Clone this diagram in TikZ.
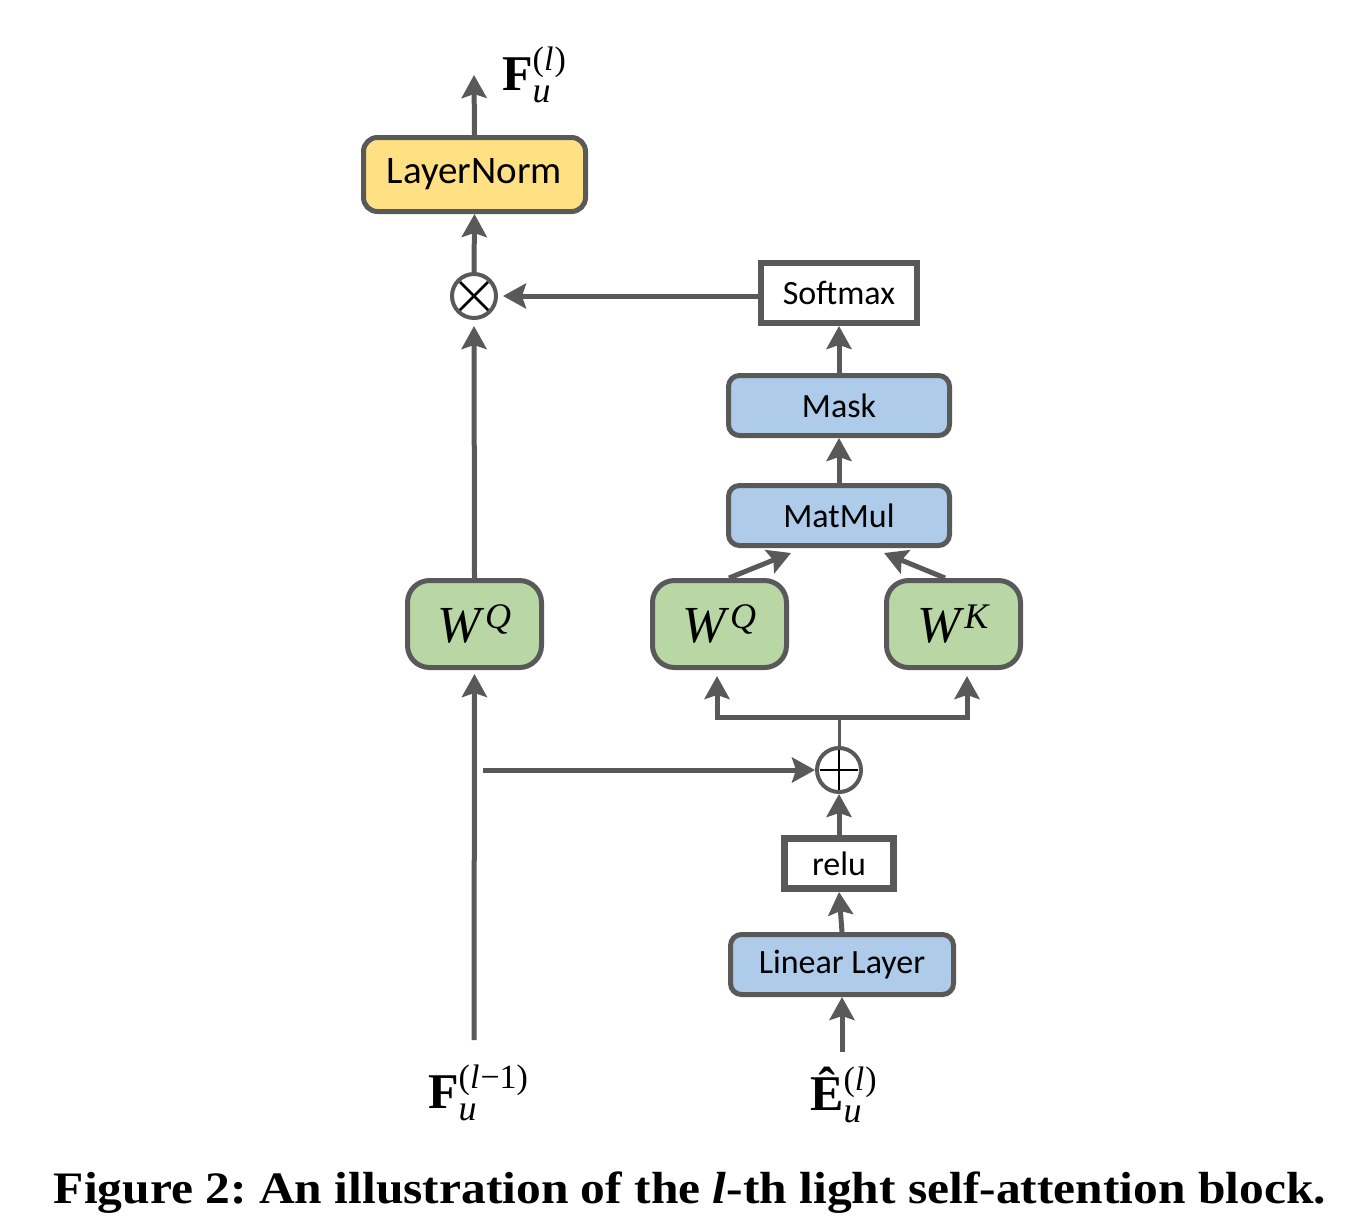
\documentclass[tikz,border=0pt]{standalone}
\usepackage{amsmath}
\usepackage{fontspec}
\setmainfont{Liberation Serif}
\newfontfamily\boxfont{Carlito}
\usetikzlibrary{arrows.meta,calc}
\definecolor{lc}{HTML}{595959}
\definecolor{yel}{HTML}{FFE082}
\definecolor{blu}{HTML}{AECBEA}
\definecolor{grn}{HTML}{B9D7A4}
\newcommand{\supfont}{\fontsize{34}{38}\selectfont}
\newcommand{\subfont}{\fontsize{36}{40}\selectfont}
\newcommand{\mlab}[3]{#1\raisebox{-12pt}{\makebox[0pt][l]{\subfont\textit{#2}}}\raisebox{20pt}{\supfont #3}}
\tikzset{
  x=1pt,y=-1pt,
  arr/.style={draw=lc,line width=5pt,-{Stealth[length=23pt,width=25pt,inset=4pt]}},
  ln/.style={draw=lc,line width=5pt},
  boxbase/.style={draw=lc,line width=5pt,inner sep=0pt,font=\boxfont\fontsize{34}{40}\selectfont,text=black},
  yelbox/.style={boxbase,fill=yel,rounded corners=14pt,minimum width=222pt,minimum height=74pt,font=\boxfont\fontsize{39}{44}\selectfont},
  blubox/.style={boxbase,fill=blu,rounded corners=11pt,minimum width=221pt,minimum height=60pt},
  whtbox/.style={boxbase,fill=white,line width=6pt,minimum width=156pt,minimum height=60pt},
  grnbox/.style={boxbase,fill=grn,rounded corners=22pt,minimum width=134pt,minimum height=87pt,font=\fontsize{52}{56}\selectfont},
  opnode/.style={draw=lc,line width=4pt,fill=white,circle,minimum size=44pt,inner sep=0pt},
  mlabel/.style={inner sep=0pt,font=\fontsize{50}{56}\selectfont}
}
\begin{document}
\begin{tikzpicture}
\useasboundingbox (0,0) rectangle (1367,1227);
% nodes
\node[yelbox] (LN) at (474.5,174.5) {LayerNorm};
\node[opnode] (mul) at (474,296) {};
\draw[black,line width=2.5pt] ($(mul)+(-14,-14)$) -- ($(mul)+(14,14)$) ($(mul)+(-14,14)$) -- ($(mul)+(14,-14)$);
\node[whtbox] (SM) at (839,293) {Softmax};
\node[blubox] (MK) at (839,405.5) {Mask};
\node[blubox] (MM) at (839,515.5) {MatMul};
\node[grnbox] (WQa) at (474.5,624) {\textit{W}\raisebox{14pt}{\fontsize{36}{40}\selectfont\textit{Q}}};
\node[grnbox] (WQb) at (719.5,624) {\textit{W}\raisebox{14pt}{\fontsize{36}{40}\selectfont\textit{Q}}};
\node[grnbox] (WK) at (953.5,624) {\textit{W}\raisebox{14pt}{\fontsize{36}{40}\selectfont\textit{K}}};
\node[opnode] (add) at (839,770) {};
\draw[black,line width=2.5pt] ($(add)+(-19,0)$) -- ($(add)+(19,0)$) ($(add)+(0,-20)$) -- ($(add)+(0,20)$);
\node[whtbox,line width=7pt,minimum width=109pt,minimum height=50pt] (RL) at (839,863.5) {relu};
\node[blubox,minimum width=223pt] (LL) at (842,964.5) {Linear Layer};
% labels
\node[mlabel,anchor=base west] (Fout) at (502,90) {\mlab{\textbf{F}}{u}{(\textit{l}\kern1pt)}};
\node[mlabel,anchor=base west] (Fin) at (428,1108) {\mlab{\textbf{F}}{u}{(\textit{l}\kern1pt−1)}};
\node[mlabel,anchor=base west] (Ein) at (810,1110) {\mlab{\textbf{Ê}}{u}{(\textit{l}\kern1pt)}};
\coordinate (top) at (474,75);
\coordinate (fin) at (474,1040);
\coordinate (ein) at (842,1052);
\coordinate (br) at (483,770);
\coordinate (fork) at (839,717);
\coordinate (fl) at (717,717);
\coordinate (fr) at (967,717);
\coordinate (flt) at (717,676);
\coordinate (frt) at (967,676);
\coordinate (qs) at (729,578);
\coordinate (qt) at (791,553);
\coordinate (ks) at (945,578);
\coordinate (kt) at (884,553);
% connectors
\draw[arr] (LN.north) -- (top);
\draw[arr] (mul.north) -- (LN.south);
\draw[arr,shorten >=5pt] (SM.west |- mul.east) -- (mul.east);
\draw[arr] (MK.north) -- (SM.south);
\draw[arr] (MM.north) -- (MK.south);
\draw[arr] (qs) -- (qt);
\draw[arr] (ks) -- (kt);
\draw[arr,shorten >=6pt] (WQa.north) -- (mul.south);
\draw[draw=lc,line width=3pt] (add.north) -- (fork);
\draw[ln] ([xshift=-2.5pt]fl) -- ([xshift=2.5pt]fr);
\draw[arr] (fl) -- (flt);
\draw[arr] (fr) -- (frt);
\draw[arr] (br) -- (add.west);
\draw[arr,shorten >=4pt] (fin) -- (WQa.south);
\draw[arr] (RL.north) -- (add.south);
\draw[arr] (LL.north) -- (RL.south);
\draw[arr] (ein) -- (LL.south);
% caption
\node[inner sep=0pt,anchor=base,font=\bfseries\fontsize{45}{50}\selectfont] (cap) at (690,1203) {\frenchspacing\scalebox{1.10}[1]{Figure 2: An illustration of the \textit{l}-th light self-attention block.}};
\end{tikzpicture}
\end{document}
